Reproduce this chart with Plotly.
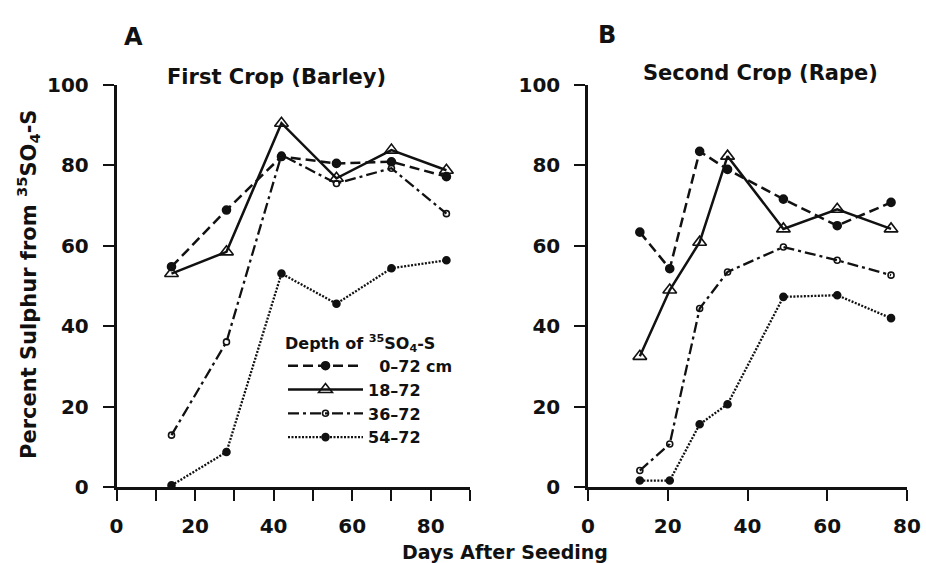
import plotly.graph_objects as go

# ---------------- data ----------------
series_names = ["\u20070\u201372 cm", "18\u201372", "36\u201372", "54\u201372"]

days_a = [14, 28, 42, 56, 70, 84]
barley_0_72 = [54.8, 68.9, 82.2, 80.5, 80.9, 77.2]
barley_18_72 = [53.1, 58.5, 90.5, 76.8, 83.8, 78.8]
barley_36_72 = [12.9, 36.1, 82.6, 75.5, 79.3, 68.0]
barley_54_72 = [0.4, 8.7, 53.1, 45.6, 54.4, 56.4]

days_b = [13, 20.5, 28, 35, 49, 62.5, 76]
rape_0_72 = [63.4, 54.3, 83.5, 79.0, 71.6, 65.0, 70.8]
rape_18_72 = [32.5, 49.0, 60.9, 82.3, 64.2, 69.1, 64.2]
rape_36_72 = [4.1, 10.7, 44.4, 53.5, 59.7, 56.4, 52.7]
rape_54_72 = [1.6, 1.6, 15.6, 20.6, 47.3, 47.7, 42.0]

x_ticks_a = [0, 20, 40, 60, 80]
x_ticks_b = [0, 20, 40, 60, 80]
y_ticks = [0, 20, 40, 60, 80, 100]

barley = [barley_0_72, barley_18_72, barley_36_72, barley_54_72]
rape = [rape_0_72, rape_18_72, rape_36_72, rape_54_72]

# ---------------- styles ----------------
INK = "#111111"
FONT = "DejaVu Sans"
styles = [
    dict(dash="10px,5px", symbol="circle", size=8, width=2.5),
    dict(dash="solid", symbol="triangle-up-open", size=12, width=2.5),
    dict(dash="11px,4px,3px,4px", symbol="circle-open", size=6, width=2.3),
    dict(dash="2px,1.5px", symbol="circle", size=7, width=2.3),
]

W, H = 926, 563


def px_x(p):
    return p / W


def px_y(p):
    return 1 - p / H


fig = go.Figure()

for name, ya, yb, st in zip(series_names, barley, rape, styles):
    common = dict(
        mode="lines+markers",
        line=dict(color=INK, width=st["width"], dash=st["dash"]),
        marker=dict(symbol=st["symbol"], size=st["size"], color=INK,
                    line=dict(color=INK, width=1.6)),
        cliponaxis=False,
        legendgroup=name,
        name=name,
    )
    fig.add_trace(go.Scatter(x=days_a, y=ya, xaxis="x", yaxis="y",
                             showlegend=True, **common))
    fig.add_trace(go.Scatter(x=days_b, y=yb, xaxis="x2", yaxis="y2",
                             showlegend=False, **common))

tickfont = dict(family=FONT, size=20, color=INK, weight="bold")
axis_common = dict(
    showline=True, linewidth=2.5, linecolor=INK,
    ticks="outside", ticklen=11, tickwidth=2, tickcolor=INK,
    showgrid=False, zeroline=False, tickfont=tickfont,
    automargin=False, fixedrange=True,
)

ydom = [px_y(487), px_y(85)]

fig.update_layout(
    width=W, height=H,
    margin=dict(l=0, r=0, t=0, b=0),
    paper_bgcolor="white", plot_bgcolor="white",
    font=dict(family=FONT, color=INK),
    xaxis=dict(domain=[px_x(116.5), px_x(470)], range=[0, 90],
               tickvals=x_ticks_a, anchor="y", ticklabelstandoff=8,
               minor=dict(tickvals=[10, 30, 50, 70, 90], ticks="outside",
                          ticklen=11, tickwidth=2, tickcolor=INK),
               **axis_common),
    yaxis=dict(domain=ydom, range=[0, 100], tickvals=y_ticks, anchor="x",
               ticklabelstandoff=10, **axis_common),
    xaxis2=dict(domain=[px_x(588), px_x(907)], range=[0, 80],
                tickvals=x_ticks_b, anchor="y2", ticklabelstandoff=8,
                **axis_common),
    yaxis2=dict(domain=ydom, range=[0, 100], tickvals=y_ticks, anchor="x2",
                ticklabelstandoff=10, **axis_common),
    legend=dict(
        x=px_x(283), y=px_y(328), xanchor="left", yanchor="top",
        bgcolor="rgba(0,0,0,0)", borderwidth=0,
        font=dict(family=FONT, size=16, color=INK, weight="bold"),
        title=dict(text="Depth of <sup>35</sup>SO<sub>4</sub>-S",
                   font=dict(family=FONT, size=16, color=INK, weight="bold")),
        itemwidth=75, tracegroupgap=0,
    ),
)

ann_font = lambda s: dict(family=FONT, size=s, color=INK, weight="bold")
annotations = [
    dict(text="A", x=px_x(133), y=px_y(37), font=ann_font(24)),
    dict(text="B", x=px_x(607), y=px_y(35), font=ann_font(24)),
    dict(text="First Crop (Barley)", x=px_x(276), y=px_y(77), font=ann_font(21)),
    dict(text="Second Crop (Rape)", x=px_x(760), y=px_y(73), font=ann_font(21)),
    dict(text="Days After Seeding", x=px_x(505), y=px_y(552), font=ann_font(19)),
    dict(text="Percent Sulphur from <sup>35</sup>SO<sub>4</sub>-S", x=px_x(28),
         y=px_y(285), textangle=-90, font=ann_font(21)),
]
for a in annotations:
    fig.add_annotation(xref="paper", yref="paper", showarrow=False,
                       xanchor="center", yanchor="middle", **a)

fig.write_html("out.html")
